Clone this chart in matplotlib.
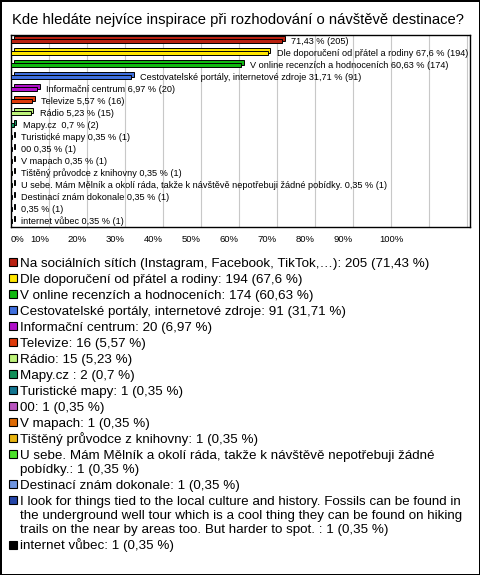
import matplotlib
matplotlib.use("Agg")
import matplotlib.pyplot as plt
from matplotlib.patches import Rectangle
from matplotlib.transforms import ScaledTranslation

plt.rcParams['font.family'] = ['Liberation Sans', 'DejaVu Sans']

title = "Kde hledáte nejvíce inspirace při rozhodování o návštěvě destinace?"

# answers (legend names, "\n" marks where the legend wraps)
names = [
    "Na sociálních sítích (Instagram, Facebook, TikTok,…)",
    "Dle doporučení od přátel a rodiny",
    "V online recenzích a hodnoceních",
    "Cestovatelské portály, internetové zdroje",
    "Informační centrum",
    "Televize",
    "Rádio",
    "Mapy.cz ",
    "Turistické mapy",
    "00",
    "V mapach",
    "Tištěný průvodce z knihovny",
    "U sebe. Mám Mělník a okolí ráda, takže k návštěvě nepotřebuji žádné\npobídky.",
    "Destinací znám dokonale",
    "I look for things tied to the local culture and history. Fossils can be found in\nthe underground well tour which is a cool thing they can be found on hiking\ntrails on the near by areas too. But harder to spot. ",
    "internet vůbec",
]
counts = [205, 194, 174, 91, 20, 16, 15, 2, 1, 1, 1, 1, 1, 1, 1, 1]
percents = [71.43, 67.6, 60.63, 31.71, 6.97, 5.57, 5.23, 0.7,
            0.35, 0.35, 0.35, 0.35, 0.35, 0.35, 0.35, 0.35]
colors = ["#B82010", "#FFE600", "#10B810", "#3F6FDD", "#B010C8", "#DD3A0A",
          "#BDF27A", "#12905A", "#137590", "#B955C0", "#DD6A05", "#E8B410",
          "#4BE02A", "#6F95E0", "#2445A8", "#000000"]
hide_bar_name = [0, 14]  # too long, only value shown next to bar

tick_vals = list(range(0, 130, 10))
tick_labels = [f"{v}%" if v <= 100 else "" for v in tick_vals]


def fmt(v):
    return f"{v:g}".replace(".", ",")


fig = plt.figure(figsize=(4.8, 5.75), dpi=100, linewidth=2, edgecolor="black")
W, H = 480, 575

fig.text(12 / W, 1 - 20 / H, title, fontsize=10.6, va="center", ha="left")

ax = fig.add_axes([11 / W, 1 - 227 / H, 459 / W, 192 / H])
ax.set_xlim(0, 120.8)
ax.set_ylim(len(names) - 0.5, -0.5)
ax.set_yticks([])
ax.set_xticks(tick_vals)
ax.set_xticklabels(tick_labels, fontsize=6.8)
ax.tick_params(axis="x", length=0, pad=6)
ax.grid(axis="x", color="#C8C8C8", linewidth=0.8)
ax.set_axisbelow(True)
for s in ax.spines.values():
    s.set_linewidth(1)
    s.set_color("black")

for lab, v in zip(ax.get_xticklabels(), tick_vals):
    if v == 0:
        lab.set_ha("left")
    elif v < 100:
        lab.set_ha("right")
    else:
        lab.set_ha("center")

ypos = list(range(len(names)))
depth = ScaledTranslation(2.5 / 100, 2.5 / 100, fig.dpi_scale_trans)
# back face of the 3D bars
ax.barh(ypos, percents, height=0.4, color=colors, edgecolor="black",
        linewidth=0.7, transform=ax.transData + depth, zorder=2)
ax.barh(ypos, percents, height=0.4, color=colors, edgecolor="black",
        linewidth=0.7, zorder=3)

for i, (n, c, p) in enumerate(zip(names, counts, percents)):
    txt = f"{fmt(p)} % ({c})"
    if i not in hide_bar_name:
        txt = n.replace("\n", " ") + " " + txt
    ax.annotate(txt, (p, i), xytext=(9, 0), textcoords="offset pixels",
                fontsize=6.6, va="center", ha="left", zorder=4)

# legend
y = 262
for i, (n, c, p) in enumerate(zip(names, counts, percents)):
    label = f"{n}: {c} ({fmt(p)} %)"
    lines = label.split("\n")
    fig.patches.append(Rectangle((9 / W, 1 - (y + 4) / H), 8 / W, 8 / H,
                                 facecolor=colors[i], edgecolor="black",
                                 linewidth=0.8, transform=fig.transFigure))
    for k, line in enumerate(lines):
        fig.text(20 / W, 1 - (y + 4.5) / H, line, fontsize=9.6,
                 va="baseline", ha="left")
        if k < len(lines) - 1:
            y += 14.2
    y += 16

fig.savefig("out.png", dpi=100, edgecolor="black")
